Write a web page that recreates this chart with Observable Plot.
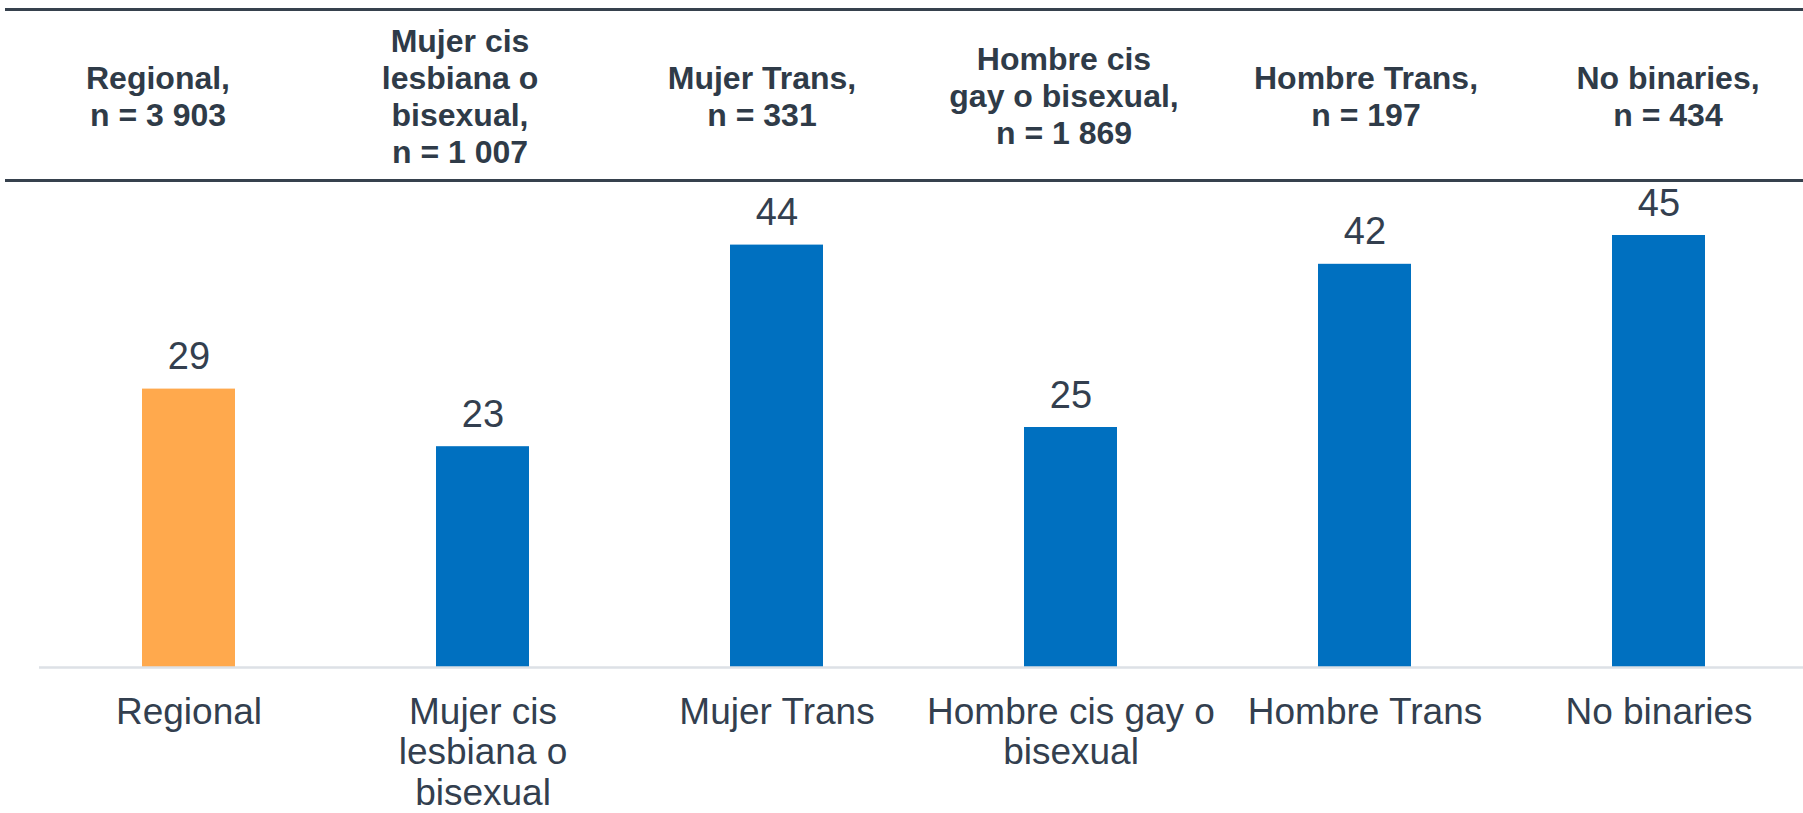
<!DOCTYPE html>
<html>
<head>
<meta charset="utf-8">
<script src="https://cdn.jsdelivr.net/npm/d3@7"></script>
<script src="https://cdn.jsdelivr.net/npm/@observablehq/plot@0.6"></script>
<style>
  html, body { margin: 0; padding: 0; background: #fff; overflow: hidden; width: 1803px; height: 813px; }
  #header { position: relative; width: 1803px; height: 182px; }
  #header .rule { position: absolute; left: 5px; right: 0; height: 3px; background: #36414d; }
  #header .cells { position: absolute; left: 7px; top: 12px; height: 167px; display: flex; }
  #header .cell { width: 302px; display: flex; align-items: center; justify-content: center; text-align: center;
    white-space: pre-line; font-family: "Liberation Sans", Arial, sans-serif; font-weight: bold; font-size: 32px;
    line-height: 37px; color: #2f3b48; padding-top: 2px; }
  #chart svg { display: block; }
</style>
</head>
<body>
<div id="header">
  <div class="rule" style="top:8px"></div>
  <div class="cells"></div>
  <div class="rule" style="top:179px"></div>
</div>
<div id="chart"></div>
<script>
const categories = ["Regional", "Mujer cis lesbiana o bisexual", "Mujer Trans", "Hombre cis gay o bisexual", "Hombre Trans", "No binaries"];
const values = [29, 23, 44, 25, 42, 45];
const sampleSizes = ["3 903", "1 007", "331", "1 869", "197", "434"];
const headerNames = ["Regional", "Mujer cis\nlesbiana o\nbisexual", "Mujer Trans", "Hombre cis\ngay o bisexual", "Hombre Trans", "No binaries"];
const axisLabels = ["Regional", "Mujer cis\nlesbiana o\nbisexual", "Mujer Trans", "Hombre cis gay o\nbisexual", "Hombre Trans", "No binaries"];
const groupType = ["Total", "Grupo", "Grupo", "Grupo", "Grupo", "Grupo"];

const cells = document.querySelector("#header .cells");
headerNames.forEach((name, i) => {
  const d = document.createElement("div");
  d.className = "cell";
  d.textContent = `${name},\nn = ${sampleSizes[i]}`;
  cells.appendChild(d);
});

const data = categories.map((c, i) => ({cat: c, value: values[i], type: groupType[i], label: axisLabels[i]}));
const labelOf = new Map(data.map(d => [d.cat, d.label]));

const chart = Plot.plot({
  width: 1803,
  height: 631,
  marginLeft: 39,
  marginRight: 0,
  marginTop: 5,
  marginBottom: 146,
  style: {fontFamily: "'Liberation Sans', Arial, sans-serif", color: "#333f4f", background: "#fff"},
  x: {domain: categories, range: [39, 1808], paddingInner: 0.685, paddingOuter: 0.3425, label: null},
  y: {domain: [0, 50], axis: null},
  color: {domain: ["Total", "Grupo"], range: ["#FFA94D", "#0070C0"]},
  marks: [
    Plot.barY(data, {x: "cat", y: "value", fill: "type"}),
    Plot.ruleY([0], {stroke: "#dde1e6", strokeWidth: 2.5}),
    Plot.text(data, {x: "cat", y: "value", text: d => String(d.value), dy: -32, fontSize: 38, fill: "#333f4f"}),
    Plot.axisX({tickSize: 0, tickPadding: 28, fontSize: 37, lineHeight: 1.09, tickFormat: d => labelOf.get(d), fill: "#333f4f", label: null})
  ]
});
document.getElementById("chart").appendChild(chart);
</script>
</body>
</html>
